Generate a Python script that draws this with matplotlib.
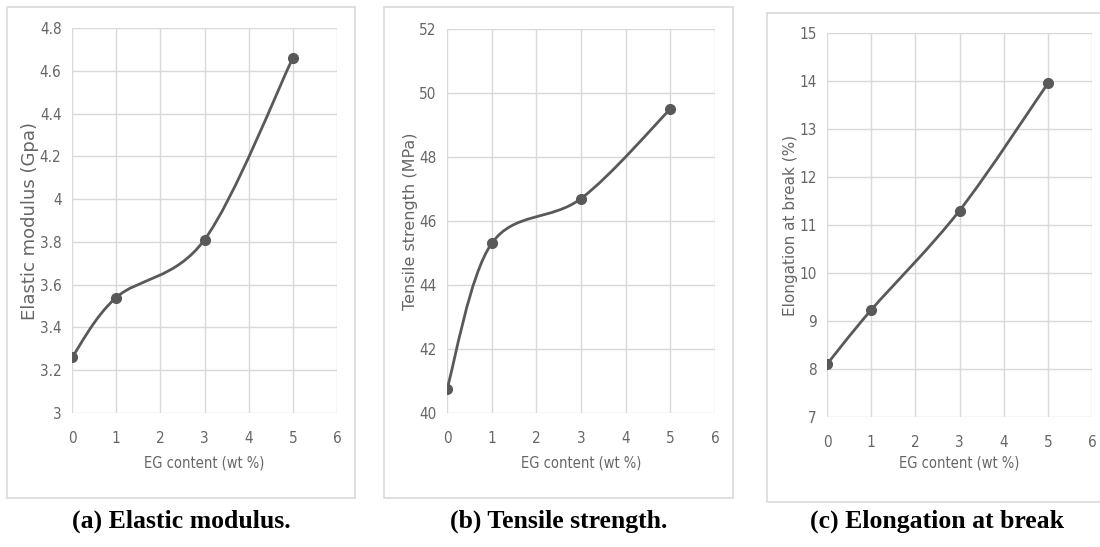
import numpy as np
import matplotlib
matplotlib.use("Agg")
import matplotlib.pyplot as plt
from matplotlib.path import Path
from matplotlib.patches import PathPatch, Rectangle

# --- DATA ---
eg_content = [0, 1, 3, 5]
elastic_modulus = [3.26, 3.54, 3.81, 4.66]
tensile_strength = [40.75, 45.3, 46.7, 49.5]
elongation = [8.1, 9.23, 11.3, 13.95]

x_ticks = [0, 1, 2, 3, 4, 5, 6]
yticks_a = [3, 3.2, 3.4, 3.6, 3.8, 4, 4.2, 4.4, 4.6, 4.8]
ylabels_a = ["3", "3.2", "3.4", "3.6", "3.8", "4", "4.2", "4.4", "4.6", "4.8"]
yticks_b = [40, 42, 44, 46, 48, 50, 52]
yticks_c = [7, 8, 9, 10, 11, 12, 13, 14, 15]

x_title = "EG content (wt %)"
y_titles = ["Elastic modulus (Gpa)", "Tensile strength (MPa)", "Elongation at break (%)"]
captions = ["(a) Elastic modulus.", "(b) Tensile strength.", "(c) Elongation at break"]

# --- STYLE ---
W, H = 1100, 547
LINE = "#595959"
GRID = "#d9d9d9"
TICK = "#666666"


def px_box(left, top, right, bottom):
    # pixel box -> figure fraction [l, b, w, h]
    return [left / W, (H - bottom) / H, (right - left) / W, (bottom - top) / H]


def smooth_path(xs, ys):
    # Excel-style smoothed line: cubic Bezier segments (Catmull-Rom tangents)
    pts = np.column_stack([xs, ys]).astype(float)
    n = len(pts)
    verts = [pts[0]]
    codes = [Path.MOVETO]
    for i in range(n - 1):
        p0 = pts[i - 1] if i > 0 else pts[i]
        p1, p2 = pts[i], pts[i + 1]
        p3 = pts[i + 2] if i + 2 < n else pts[i + 1]
        c1 = p1 + (p2 - p0) / 6.0
        c2 = p2 - (p3 - p1) / 6.0
        verts += [c1, c2, p2]
        codes += [Path.CURVE4] * 3
    return Path(verts, codes)


fig = plt.figure(figsize=(W / 100, H / 100), dpi=100)
fig.patch.set_facecolor("white")

panels = [
    dict(frame=(7, 7, 355, 498), ax=(72, 28, 337, 413), ylab_x=30, ylab_size=13,
         y=elastic_modulus, yticks=yticks_a, ylabels=ylabels_a, cap_x=181),
    dict(frame=(384, 7, 733, 498), ax=(447, 29, 715, 413), ylab_x=410, ylab_size=11.5,
         y=tensile_strength, yticks=yticks_b, ylabels=[str(v) for v in yticks_b], cap_x=559),
    dict(frame=(767, 13, 1110, 502), ax=(827, 33, 1092, 417), ylab_x=791, ylab_size=11,
         y=elongation, yticks=yticks_c, ylabels=[str(v) for v in yticks_c], cap_x=937),
]

for i, p in enumerate(panels):
    fl, ft, fr, fb = p["frame"]
    fig.patches.append(Rectangle((fl / W, 1 - fb / H), (fr - fl) / W, (fb - ft) / H,
                                 transform=fig.transFigure, fill=False,
                                 edgecolor="#d9d9d9", linewidth=1.2))

    ax = fig.add_axes(px_box(*p["ax"]))
    ax.set_xlim(0, 6)
    ax.set_ylim(p["yticks"][0], p["yticks"][-1])
    ax.set_xticks(x_ticks)
    ax.set_yticks(p["yticks"])
    ax.set_yticklabels(p["ylabels"])
    ax.grid(True, color=GRID, linewidth=1.0)
    ax.set_axisbelow(True)
    for s in ax.spines.values():
        s.set_visible(False)
    ax.tick_params(length=0, colors=TICK, labelsize=11)
    ax.tick_params(axis="x", pad=13)
    ax.tick_params(axis="y", pad=7.5)
    for lab in ax.get_xticklabels() + ax.get_yticklabels():
        lab.set_family("DejaVu Sans")
        lab.set_stretch("condensed")

    ax.add_patch(PathPatch(smooth_path(eg_content, p["y"]), facecolor="none",
                           edgecolor=LINE, linewidth=2.0, zorder=3))
    ax.plot(eg_content, p["y"], linestyle="none", marker="o", markersize=7,
            color=LINE, zorder=4)

    al, at, ar, ab = p["ax"]
    fig.text(((al + ar) / 2) / W, 1 - 463 / H, x_title, ha="center", va="center",
             fontsize=10.5, color=TICK, family="DejaVu Sans", stretch="condensed")
    fig.text(p["ylab_x"] / W, 1 - ((at + ab) / 2) / H, y_titles[i], rotation=90,
             ha="center", va="center", fontsize=p["ylab_size"], color=TICK,
             family="DejaVu Sans")

    fig.text(p["cap_x"] / W, 1 - 521 / H, captions[i], ha="center", va="center",
             fontsize=18.5, fontweight="bold", family="Liberation Serif")

fig.savefig("out.png", dpi=100, facecolor="white")
